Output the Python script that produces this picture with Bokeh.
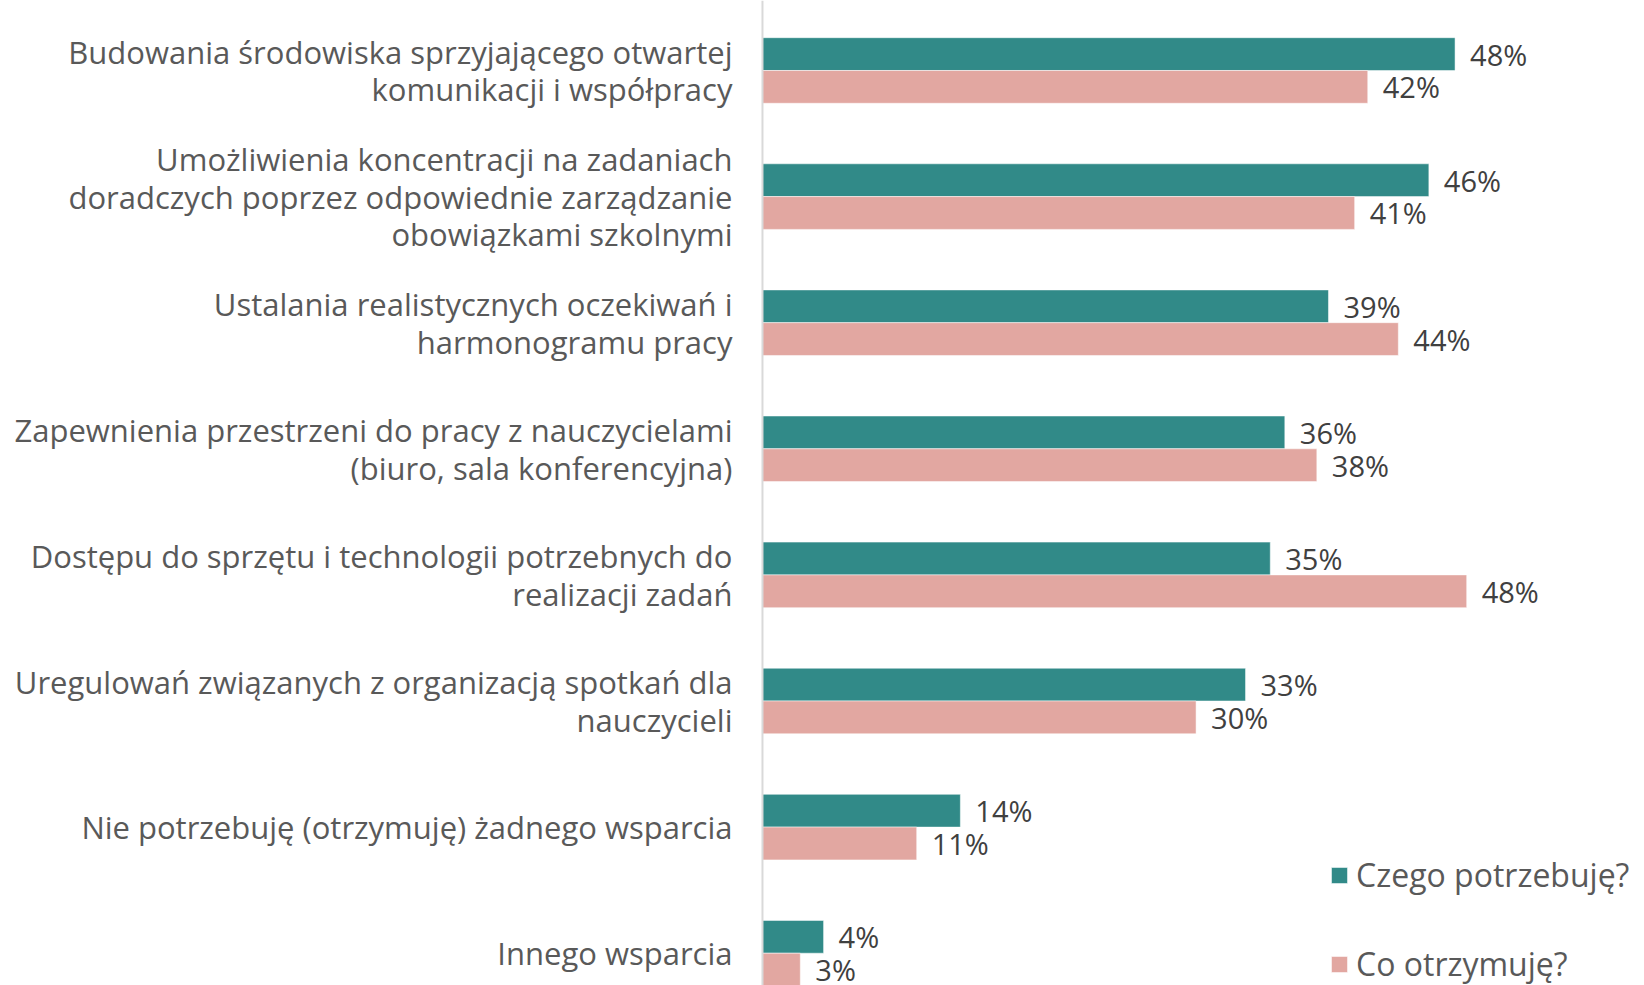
from bokeh.plotting import figure
from bokeh.models import Range1d, Span, Legend, LegendItem, ColumnDataSource
from bokeh.core.properties import value
from bokeh.embed import file_html
from bokeh.resources import INLINE

categories = [
    "Budowania środowiska sprzyjającego otwartej\nkomunikacji i współpracy",
    "Umożliwienia koncentracji na zadaniach\ndoradczych poprzez odpowiednie zarządzanie\nobowiązkami szkolnymi",
    "Ustalania realistycznych oczekiwań i\nharmonogramu pracy",
    "Zapewnienia przestrzeni do pracy z nauczycielami\n(biuro, sala konferencyjna)",
    "Dostępu do sprzętu i technologii potrzebnych do\nrealizacji zadań",
    "Uregulowań związanych z organizacją spotkań dla\nnauczycieli",
    "Nie potrzebuję (otrzymuję) żadnego wsparcia",
    "Innego wsparcia",
]
need = [47.6, 45.8, 38.9, 35.9, 34.9, 33.2, 13.6, 4.2]
get = [41.6, 40.7, 43.7, 38.1, 48.4, 29.8, 10.6, 2.6]
series_names = ["Czego potrzebuję?", "Co otrzymuję?"]
colors = ["#318A88", "#E2A7A1"]

FONT = "Open Sans"
BAR_H = 0.26
idx = list(range(len(categories)))

src = ColumnDataSource(dict(
    cat=categories,
    ycat=idx,
    need=need,
    get=get,
    y_need=[i - BAR_H / 2 for i in idx],
    y_get=[i + BAR_H / 2 for i in idx],
    zero=[0] * len(idx),
    need_lab=[f"{round(v)}%" for v in need],
    get_lab=[f"{round(v)}%" for v in get],
))

p = figure(width=1644, height=985, output_backend="svg", toolbar_location=None,
           x_range=Range1d(-52.37, 60.62), y_range=Range1d(7.256, -0.555),
           x_axis_location=None, y_axis_location=None, min_border=0,
           outline_line_color=None, background_fill_color="white")
p.xgrid.visible = False
p.ygrid.visible = False

r1 = p.hbar(y="y_need", left="zero", right="need", height=BAR_H, source=src,
            fill_color=colors[0], line_color="white", line_alpha=0.5, line_width=1)
r2 = p.hbar(y="y_get", left="zero", right="get", height=BAR_H, source=src,
            fill_color=colors[1], line_color="white", line_alpha=0.5, line_width=1)

p.add_layout(Span(location=0, dimension="height", line_color="#D9D9D9", line_width=2))

p.text(x="zero", y="ycat", text="cat", source=src, x_offset=-30,
       text_align="right", text_baseline="middle", text_font=value(FONT),
       text_font_size="31px", text_color="#595959", text_line_height=0.9)

p.text(x="need", y="y_need", text="need_lab", source=src, x_offset=15,
       text_align="left", text_baseline="middle", text_font=value(FONT),
       text_font_size="29px", text_color="#404040")
p.text(x="get", y="y_get", text="get_lab", source=src, x_offset=15,
       text_align="left", text_baseline="middle", text_font=value(FONT),
       text_font_size="29px", text_color="#404040")

legend = Legend(items=[LegendItem(label=series_names[0], renderers=[r1]),
                       LegendItem(label=series_names[1], renderers=[r2])],
                location=(1329, 0), orientation="vertical",
                glyph_width=20, glyph_height=20, label_standoff=7,
                spacing=46, padding=0, margin=0,
                border_line_color=None, background_fill_alpha=0,
                label_text_font=FONT, label_text_font_size="32px",
                label_text_color="#595959", label_text_baseline="middle")
p.add_layout(legend)

open("out.html", "w").write(file_html(p, INLINE))
